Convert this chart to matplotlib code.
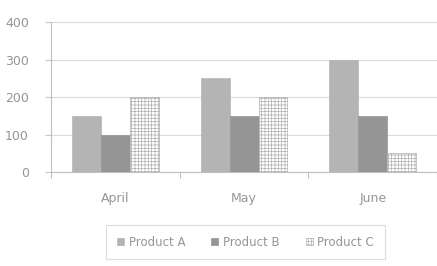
import matplotlib
matplotlib.use("Agg")
import matplotlib.pyplot as plt
import numpy as np

months = ["April", "May", "June"]
products = ["Product A", "Product B", "Product C"]
product_a = [150, 250, 300]
product_b = [100, 150, 150]
product_c = [200, 200, 50]
y_ticks = [0, 100, 200, 300, 400]

plt.rcParams["hatch.color"] = "#a8a8a8"
plt.rcParams["hatch.linewidth"] = 0.5
text_col = "#959595"

fig = plt.figure(figsize=(4.37, 2.66), dpi=100)
ax = fig.add_axes([0.117, 0.353, 0.883, 0.564])

x = np.arange(len(months))
w = 0.225
ax.bar(x - w, product_a, w, color="#b4b4b4", edgecolor="#b4b4b4", linewidth=0.5, label=products[0], zorder=3)
ax.bar(x, product_b, w, color="#959595", edgecolor="#959595", linewidth=0.5, label=products[1], zorder=3)
ax.bar(x + w, product_c, w, color="white", edgecolor="#b0b0b0", hatch="+++++", linewidth=0.5, label=products[2], zorder=3)

ax.set_xlim(-0.5, len(months) - 0.5)
ax.set_ylim(0, 400)
ax.set_yticks(y_ticks)
ax.set_yticklabels([str(v) for v in y_ticks])
ax.set_xticks(x)
ax.set_xticklabels(months)
ax.set_xticks(np.arange(len(months) + 1) - 0.5, minor=True)

ax.grid(axis="y", color="#dadada", linewidth=0.8, zorder=0)
ax.tick_params(axis="x", which="major", length=0, pad=14, labelsize=9, labelcolor=text_col)
ax.tick_params(axis="x", which="minor", length=4, color="#c0c0c0", width=0.8)
ax.tick_params(axis="y", length=4, color="#c8c8c8", width=0.8, pad=12, labelsize=9, labelcolor=text_col)

for side in ["top", "right"]:
    ax.spines[side].set_visible(False)
for side in ["left", "bottom"]:
    ax.spines[side].set_color("#c0c0c0")
    ax.spines[side].set_linewidth(0.8)

leg = fig.legend(loc="center", bbox_to_anchor=(0.562, 0.09), ncol=3, frameon=True,
                 fontsize=8.5, handlelength=0.6, handleheight=0.6, handletextpad=0.4,
                 columnspacing=2.2, fancybox=False, borderpad=0.9, borderaxespad=0.3)
leg.get_frame().set_edgecolor("#d4d4d4")
leg.get_frame().set_linewidth(0.8)
for t in leg.get_texts():
    t.set_color(text_col)

fig.savefig("out.png", dpi=100)
